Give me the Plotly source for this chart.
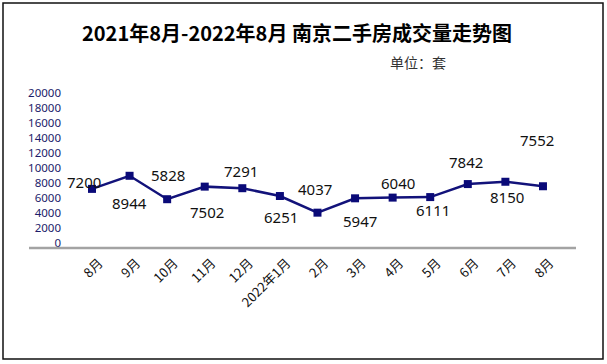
import plotly.graph_objects as go

months = ["8月", "9月", "10月", "11月", "12月", "2022年1月", "2月", "3月", "4月", "5月", "6月", "7月", "8月"]
volumes = [7200, 8944, 5828, 7502, 7291, 6251, 4037, 5947, 6040, 6111, 7842, 8150, 7552]
y_ticks = list(range(0, 20001, 2000))
y_tick_labels = [str(v) for v in y_ticks]

# label offsets (pixels) – style only
label_dy = [7, -27, 24, -25, 17, -21, 24, -23, 15, -13, 22, -15, 46]
label_dx = [-8, 0, 1, 2, -1, 1, -2, 5, 5, 3, -2, 2, -6]

FONT = "Noto Sans CJK SC"
NUM_FONT = "Noto Sans"
xs = list(range(len(months)))

fig = go.Figure()
fig.add_trace(go.Scatter(
    x=xs, y=volumes, mode="lines+markers",
    line=dict(color="#12127a", width=2.5),
    marker=dict(symbol="square", size=8, color="#0a0a78"),
    hoverinfo="skip", showlegend=False,
))


def px_x(p):
    return (p - 62) / 514


def px_y(p):
    return (248 - p) / 163


annotations = []
for i, v in enumerate(volumes):
    annotations.append(dict(
        x=i, y=v, xref="x", yref="y", text=str(v), showarrow=False,
        yshift=label_dy[i], xshift=label_dx[i],
        font=dict(family=NUM_FONT, size=15, color="#111111"),
    ))
annotations.append(dict(
    x=px_x(418), y=px_y(62.5), xref="paper", yref="paper",
    text="单位：套", showarrow=False, xanchor="center", yanchor="middle",
    font=dict(family=FONT, size=14, color="#333333"),
))

shapes = [
    dict(type="line", xref="paper", yref="paper", x0=px_x(29), x1=1, y0=0, y1=0,
         line=dict(color="#a3a3a3", width=2.5)),
    dict(type="rect", xref="paper", yref="paper", x0=px_x(3), x1=px_x(603),
         y0=px_y(359), y1=px_y(3), line=dict(color="#111111", width=1.5)),
]

fig.update_layout(
    width=607, height=364,
    margin=dict(l=62, r=31, t=85, b=116),
    paper_bgcolor="white", plot_bgcolor="white",
    title=dict(text="<b>2021年8月-2022年8月 南京二手房成交量走势图</b>",
               x=297 / 607, xanchor="center", y=1 - 33.5 / 364, yanchor="middle",
               font=dict(family=FONT, size=20, color="#000000")),
    xaxis=dict(range=[-0.798, 12.879], tickvals=xs, ticktext=months, tickangle=-45,
               showgrid=False, zeroline=False, showline=False, ticks="",
               ticklabelshift=7, ticklabelstandoff=4,
               tickfont=dict(family=FONT, size=13, color="#111111")),
    yaxis=dict(range=[-665, 21025], tickvals=y_ticks, ticktext=y_tick_labels,
               showgrid=False, zeroline=False, showline=False, ticks="",
               tickfont=dict(family=NUM_FONT, size=11.5, color="#1c1c6a")),
    annotations=annotations,
    shapes=shapes,
)

fig.write_html("out.html", config={"displayModeBar": False},
               post_script="document.body.style.margin='0';")
